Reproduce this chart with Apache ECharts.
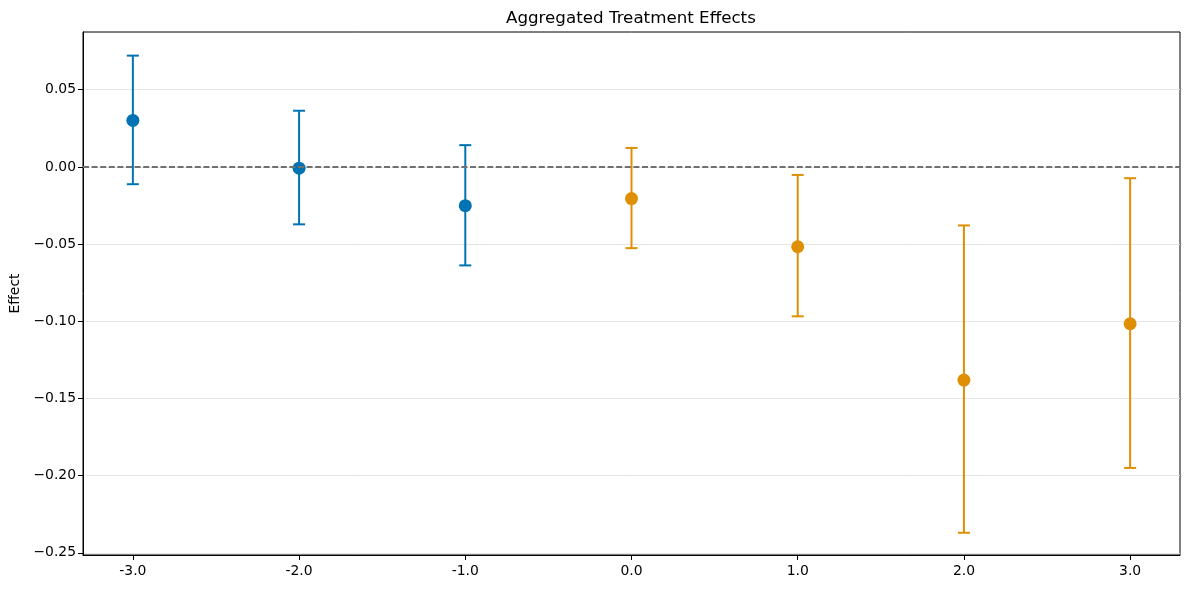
<!DOCTYPE html>
<html>
<head>
<meta charset="utf-8">
<script src="https://cdn.jsdelivr.net/npm/echarts@6/dist/echarts.min.js"></script>
<style>html,body{margin:0;padding:0;background:#fff}#c{width:1189px;height:590px}</style>
</head>
<body>
<div id="c"></div>
<script>
var periods = [-3, -2, -1, 0, 1, 2, 3];
var estimates = [0.0301, -0.0008, -0.0251, -0.0205, -0.0517, -0.1381, -0.1016];
var lowerCI = [-0.0112, -0.0372, -0.0638, -0.0526, -0.0968, -0.2370, -0.1950];
var upperCI = [0.0721, 0.0364, 0.0141, 0.0123, -0.0052, -0.0379, -0.0073];
var xTicks = [-3, -2, -1, 0, 1, 2, 3];
var yTicks = [-0.25, -0.20, -0.15, -0.10, -0.05, 0.00, 0.05];

var PRE = '#0173b2', POST = '#de8f05';
function colorFor(x){ return x < 0 ? PRE : POST; }

var preData = [], postData = [], errData = [];
periods.forEach(function(p, i){
  (p < 0 ? preData : postData).push([p, estimates[i]]);
  errData.push([p, lowerCI[i], upperCI[i]]);
});

var font = 'DejaVu Sans';
var chart = echarts.init(document.getElementById('c'));
chart.setOption({
  animation: false,
  backgroundColor: '#fff',
  title: {
    text: 'Aggregated Treatment Effects', left: 501, top: 5,
    textStyle: {fontFamily: font, fontSize: 16.7, fontWeight: 'normal', color: '#000'}
  },
  grid: {left: 83, right: 9, top: 32, bottom: 35, containLabel: false, outerBoundsMode: 'none',
    show: true, borderColor: '#000', borderWidth: 1, backgroundColor: 'transparent'},
  xAxis: {
    type: 'value', min: -3.3, max: 3.3,
    axisLine: {show: true, onZero: false, lineStyle: {color: '#000', width: 1}},
    axisTick: {show: true, length: 5, inside: false, customValues: xTicks, lineStyle: {color: '#000'}},
    axisLabel: {customValues: xTicks, fontFamily: font, fontSize: 13.9, color: '#000', margin: 9,
      formatter: function(v){ return v.toFixed(1); }},
    splitLine: {show: false}
  },
  yAxis: {
    type: 'value', min: -0.2514, max: 0.0874,
    name: 'Effect', nameLocation: 'middle', nameGap: 60, nameRotate: 90,
    nameTextStyle: {fontFamily: font, fontSize: 13.9, color: '#000'},
    axisLine: {show: true, onZero: false, lineStyle: {color: '#000', width: 1}},
    axisTick: {show: true, length: 5, inside: false, customValues: yTicks, lineStyle: {color: '#000'}},
    axisLabel: {customValues: yTicks, fontFamily: font, fontSize: 13.9, color: '#000', margin: 7,
      formatter: function(v){ return v.toFixed(2).replace('-', '\u2212'); }},
    splitLine: {show: true, lineStyle: {color: '#e5e5e5', width: 1}}
  },
  series: [
    {
      type: 'custom', name: 'ci', z: 2,
      data: errData,
      encode: {x: 0, y: [1, 2]},
      renderItem: function(params, api){
        var x = api.value(0), lo = api.value(1), hi = api.value(2);
        var top = api.coord([x, hi]), bot = api.coord([x, lo]);
        var w = 6;
        var st = {stroke: colorFor(x), lineWidth: 2, fill: null};
        return {type: 'group', children: [
          {type: 'line', shape: {x1: top[0], y1: top[1], x2: bot[0], y2: bot[1]}, style: st},
          {type: 'line', shape: {x1: top[0]-w, y1: top[1], x2: top[0]+w, y2: top[1]}, style: st},
          {type: 'line', shape: {x1: bot[0]-w, y1: bot[1], x2: bot[0]+w, y2: bot[1]}, style: st}
        ]};
      }
    },
    {
      type: 'scatter', name: 'pre', data: preData, symbolSize: 13, z: 3,
      itemStyle: {color: PRE, opacity: 1},
      markLine: {
        silent: true, symbol: 'none', label: {show: false},
        lineStyle: {color: '#707070', type: [6, 2.6], width: 1.9},
        data: [{yAxis: 0}]
      }
    },
    {
      type: 'scatter', name: 'post', data: postData, symbolSize: 13, z: 3,
      itemStyle: {color: POST, opacity: 1}
    }
  ]
});
</script>
</body>
</html>
